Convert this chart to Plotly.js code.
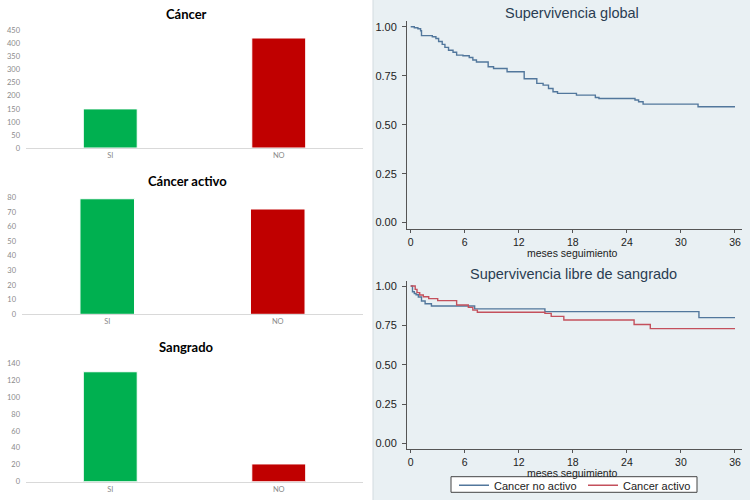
<!DOCTYPE html>
<html>
<head>
<meta charset="utf-8">
<script src="https://cdn.plot.ly/plotly-3.0.1.min.js"></script>
<style>
  body { margin: 0; background: #ffffff; }
  #myDiv { width: 750px; height: 500px; }
</style>
</head>
<body>
<div id="myDiv"></div>
<script>
// datos de las barras
let categorias = ["SI", "NO"];
let cancer = [150, 422];
let cancerActivo = [79, 72];
let sangrado = [130, 21];

// supervivencia global (Kaplan-Meier, escalones)
let mesesGlobal = [0, 0.4, 0.8, 1.1, 1.2, 2.4, 2.8, 3.1, 3.5, 3.8, 4.2, 4.7, 5.1, 5.8, 6.5, 6.9, 7.3, 8.6, 9.2, 10.7, 12.6, 14.0, 14.7, 15.3, 15.8, 16.3, 18.4, 20.5, 20.9, 24.9, 25.3, 25.8, 31.9, 36];
let supGlobal = [1.0, 0.995, 0.99, 0.98, 0.955, 0.949, 0.94, 0.925, 0.91, 0.895, 0.88, 0.87, 0.855, 0.852, 0.843, 0.83, 0.82, 0.796, 0.787, 0.77, 0.735, 0.711, 0.702, 0.685, 0.668, 0.66, 0.651, 0.639, 0.634, 0.626, 0.617, 0.605, 0.592, 0.592];

// supervivencia libre de sangrado
let mesesNoActivo = [0, 0.2, 0.4, 0.6, 0.85, 1.2, 1.6, 2.3, 7.1, 14.9, 32.0, 36];
let supNoActivo = [1.0, 0.964, 0.953, 0.945, 0.93, 0.905, 0.887, 0.873, 0.855, 0.837, 0.799, 0.799];
let mesesActivo = [0, 0.5, 0.7, 1.0, 1.4, 2.0, 3.0, 5.1, 6.4, 6.9, 7.4, 14.9, 15.6, 17.0, 24.8, 26.6, 36];
let supActivo = [1.0, 0.979, 0.958, 0.943, 0.932, 0.92, 0.907, 0.879, 0.864, 0.847, 0.833, 0.826, 0.807, 0.784, 0.755, 0.729, 0.729];

let xTicks = [0, 6, 12, 18, 24, 30, 36];
let yTicks = [0, 0.25, 0.5, 0.75, 1];

let W = 750;
let H = 500;
function px(v) { return v / W; }
function py(v) { return 1 - v / H; }

let barColors = ["#00b050", "#c00000"];
let azul = "#52779c";
let rojo = "#c4505c";

function barTrace(values, n) {
  return {
    type: "bar",
    x: categorias,
    y: values,
    width: 0.32,
    marker: { color: barColors, line: { width: 1, color: "#ffffff" } },
    xaxis: "x" + n,
    yaxis: "y" + n,
    showlegend: false,
    hoverinfo: "skip"
  };
}

function kmTrace(x, y, n, color, name, legend) {
  return {
    type: "scatter",
    mode: "lines",
    x: x,
    y: y,
    name: name,
    line: { shape: "hv", color: color, width: 1.4 },
    xaxis: "x" + n,
    yaxis: "y" + n,
    showlegend: legend,
    hoverinfo: "skip"
  };
}

let data = [
  barTrace(cancer, ""),
  barTrace(cancerActivo, 2),
  barTrace(sangrado, 3),
  kmTrace(mesesGlobal, supGlobal, 4, azul, "Global", false),
  kmTrace(mesesNoActivo, supNoActivo, 5, azul, "Cancer no activo", true),
  kmTrace(mesesActivo, supActivo, 5, rojo, "Cancer activo", true)
];

let barFont = { family: "Lato, 'Open sans', sans-serif", size: 7.5, color: "#8a8a8a" };

function barX(x0, anchor) {
  return {
    domain: [px(x0), px(363)],
    anchor: anchor,
    type: "category",
    showline: true,
    linecolor: "#d9d9d9",
    linewidth: 1,
    showgrid: false,
    zeroline: false,
    ticks: "",
    tickfont: barFont,
    fixedrange: true
  };
}

function barY(top, bottom, max, step, anchor) {
  return {
    domain: [py(bottom), py(top)],
    anchor: anchor,
    range: [0, max],
    dtick: step,
    showgrid: false,
    zeroline: false,
    showline: false,
    ticks: "",
    ticklabelstandoff: 5,
    tickfont: barFont,
    fixedrange: true
  };
}

let kmFont = { family: "'Liberation Sans', Arial, sans-serif", size: 10.5, color: "#222222" };

function kmX(anchor) {
  return {
    domain: [px(407), px(742)],
    anchor: anchor,
    range: [-0.41, 36.78],
    tickvals: xTicks,
    ticks: "outside",
    ticklen: 3,
    tickcolor: "#555555",
    showline: true,
    linecolor: "#555555",
    linewidth: 1,
    showgrid: false,
    zeroline: false,
    tickfont: kmFont
  };
}

function kmY(top, bottom, lo, hi, anchor) {
  return {
    domain: [py(bottom), py(top)],
    anchor: anchor,
    range: [lo, hi],
    tickvals: yTicks,
    tickformat: ".2f",
    ticks: "outside",
    ticklen: 4,
    tickcolor: "#555555",
    ticklabelstandoff: 3,
    showline: true,
    linecolor: "#555555",
    linewidth: 1,
    showgrid: true,
    gridcolor: "#e9f0f2",
    gridwidth: 1,
    zeroline: false,
    tickfont: { family: kmFont.family, size: 11, color: kmFont.color }
  };
}

let titleBar = { family: "Lato, 'Open Sans', sans-serif", size: 13, color: "#000000" };
let titleKm = { family: "'Liberation Sans', Arial, sans-serif", size: 14.5, color: "#2a3d52" };
let ejeKm = { family: "'Liberation Sans', Arial, sans-serif", size: 10.5, color: "#222222" };

function nota(text, x, y, font, bold, anchor) {
  return {
    text: bold ? "<b>" + text + "</b>" : text,
    x: px(x),
    y: py(y),
    xref: "paper",
    yref: "paper",
    xanchor: "center",
    yanchor: anchor || "middle",
    showarrow: false,
    font: font
  };
}

let layout = {
  width: W,
  height: H,
  margin: { l: 0, r: 0, t: 0, b: 0 },
  paper_bgcolor: "#ffffff",
  plot_bgcolor: "#ffffff",
  xaxis: barX(26, "y"),
  yaxis: barY(30.7, 148, 450, 50, "x"),
  xaxis2: barX(22, "y2"),
  yaxis2: barY(197.3, 314.3, 80, 10, "x2"),
  xaxis3: barX(26, "y3"),
  yaxis3: barY(363.3, 481.7, 140, 20, "x3"),
  xaxis4: kmX("y4"),
  yaxis4: kmY(20.7, 229.3, -0.034, 1.031, "x4"),
  xaxis5: kmX("y5"),
  yaxis5: kmY(281, 449.3, -0.038, 1.032, "x5"),
  shapes: [
    // fondo gris azulado de la parte derecha
    {
      type: "rect",
      xref: "paper",
      yref: "paper",
      x0: px(373),
      x1: 1,
      y0: 0,
      y1: 1,
      fillcolor: "#e9f0f3",
      line: { width: 0 },
      layer: "below"
    },
    {
      type: "line",
      xref: "paper",
      yref: "paper",
      x0: px(373),
      x1: px(373),
      y0: 0,
      y1: 1,
      line: { color: "#d3dbe0", width: 1 }
    },
    // caja de la leyenda
    {
      type: "rect",
      xref: "paper",
      yref: "paper",
      x0: px(451),
      x1: px(697),
      y0: py(492.3),
      y1: py(476.7),
      fillcolor: "#ffffff",
      line: { color: "#444444", width: 1 },
      layer: "below"
    }
  ],
  annotations: [
    nota("Cáncer", 186, 14, titleBar, true),
    nota("Cáncer activo", 187, 181, titleBar, true),
    nota("Sangrado", 186, 347, titleBar, true),
    nota("Supervivencia global", 572, 12.5, titleKm, false),
    nota("Supervivencia libre de sangrado", 573, 274, titleKm, false),
    nota("meses seguimiento", 572.7, 244.5, ejeKm, false, "top"),
    nota("meses seguimiento", 572.7, 464.5, ejeKm, false, "top")
  ],
  legend: {
    orientation: "h",
    x: px(454),
    y: py(485.3),
    xanchor: "left",
    yanchor: "middle",
    bgcolor: "rgba(0,0,0,0)",
    borderwidth: 0,
    font: { family: "'Liberation Sans', Arial, sans-serif", size: 11, color: "#222222" },
    entrywidth: 84,
    entrywidthmode: "pixels",
    tracegroupgap: 0
  }
};

Plotly.newPlot("myDiv", data, layout, { staticPlot: true });
</script>
</body>
</html>
